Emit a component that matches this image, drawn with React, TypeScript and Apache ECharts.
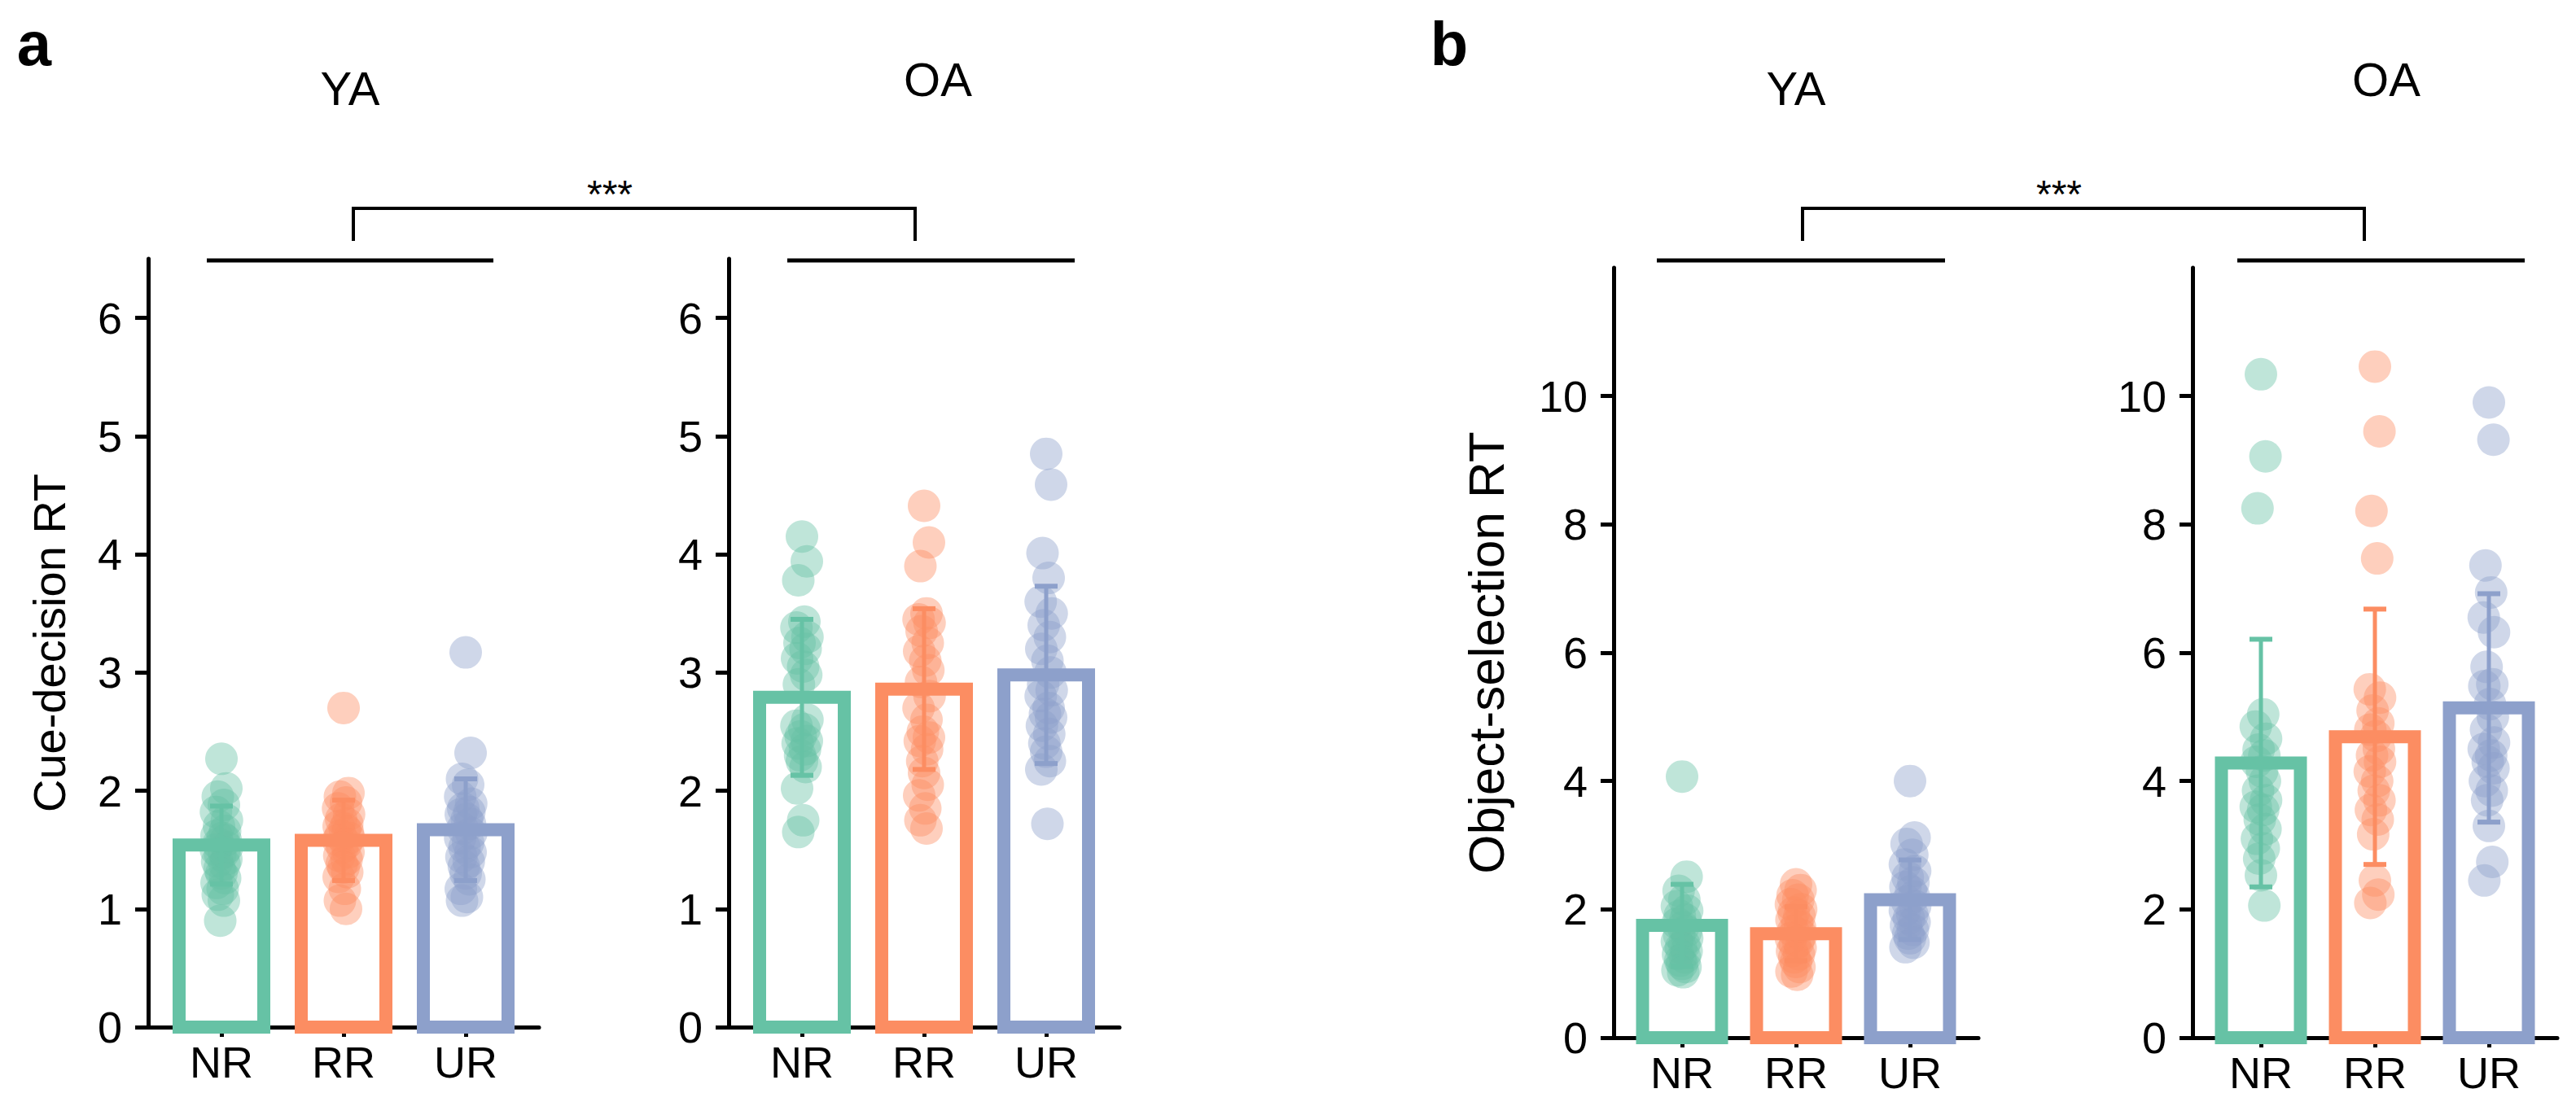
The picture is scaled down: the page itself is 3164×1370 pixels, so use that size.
import React, { useEffect, useRef } from "react";
import * as echarts from "echarts";

const categories = ["NR", "RR", "UR"];
const colors = ["#66C2A5", "#FC8D62", "#8DA0CB"];
const FONT = "Liberation Sans, Arial, sans-serif";

// panel a: cue-decision RT
const cueTicks = [0, 1, 2, 3, 4, 5, 6];
const cueYAMeans = [1.54, 1.58, 1.67];
const cueYASd = [0.33, 0.34, 0.43];
const cueOAMeans = [2.79, 2.86, 2.98];
const cueOASd = [0.66, 0.68, 0.75];

const cueYA_NR = [2.27, 2.02, 1.95, 1.88, 1.82, 1.75, 1.7, 1.66, 1.62, 1.6, 1.58, 1.55, 1.52, 1.5, 1.48, 1.46, 1.42, 1.4, 1.38, 1.34, 1.3, 1.26, 1.22, 1.17, 1.12, 1.07, 0.9];
const cueYA_RR = [2.7, 1.98, 1.95, 1.9, 1.85, 1.8, 1.76, 1.72, 1.7, 1.68, 1.65, 1.62, 1.6, 1.58, 1.55, 1.52, 1.48, 1.45, 1.42, 1.38, 1.35, 1.31, 1.27, 1.17, 1.07, 1.0];
const cueYA_UR = [3.17, 2.32, 2.1, 2.05, 1.95, 1.89, 1.85, 1.82, 1.8, 1.76, 1.72, 1.68, 1.64, 1.6, 1.56, 1.52, 1.48, 1.44, 1.4, 1.36, 1.3, 1.25, 1.17, 1.1, 1.07];
const cueOA_NR = [4.15, 3.94, 3.78, 3.43, 3.38, 3.3, 3.25, 3.2, 3.12, 3.05, 2.98, 2.9, 2.6, 2.55, 2.52, 2.46, 2.42, 2.4, 2.35, 2.3, 2.25, 2.2, 2.02, 1.75, 1.65];
const cueOA_RR = [4.41, 4.1, 3.9, 3.5, 3.45, 3.42, 3.35, 3.25, 3.18, 3.1, 3.02, 2.92, 2.8, 2.7, 2.6, 2.5, 2.45, 2.42, 2.35, 2.25, 2.15, 2.05, 1.96, 1.85, 1.75, 1.68];
const cueOA_UR = [4.85, 4.59, 4.01, 3.8, 3.6, 3.5, 3.4, 3.3, 3.2, 3.1, 3.0, 2.9, 2.85, 2.8, 2.7, 2.65, 2.62, 2.55, 2.48, 2.4, 2.33, 2.25, 2.18, 1.72];

// panel b: object-selection RT
const objTicks = [0, 2, 4, 6, 8, 10];
const objYAMeans = [1.75, 1.62, 2.15];
const objYASd = [0.64, 0.42, 0.62];
const objOAMeans = [4.28, 4.69, 5.14];
const objOASd = [1.93, 1.99, 1.78];

const objYA_NR = [4.07, 2.51, 2.29, 2.15, 2.05, 1.98, 1.9, 1.84, 1.78, 1.72, 1.66, 1.6, 1.55, 1.5, 1.45, 1.4, 1.35, 1.3, 1.25, 1.2, 1.15, 1.1, 1.05, 1.02];
const objYA_RR = [2.39, 2.3, 2.22, 2.15, 2.08, 2.0, 1.95, 1.9, 1.84, 1.78, 1.72, 1.66, 1.6, 1.55, 1.5, 1.45, 1.4, 1.35, 1.3, 1.25, 1.18, 1.1, 1.03, 0.98];
const objYA_UR = [4.0, 3.12, 3.02, 2.85, 2.7, 2.6, 2.5, 2.42, 2.35, 2.28, 2.2, 2.12, 2.05, 1.98, 1.92, 1.86, 1.8, 1.75, 1.68, 1.62, 1.55, 1.48, 1.41];
const objOA_NR = [10.34, 9.06, 8.25, 5.04, 4.85, 4.66, 4.49, 4.4, 4.3, 4.15, 4.0, 3.85, 3.7, 3.6, 3.55, 3.4, 3.25, 3.1, 2.95, 2.79, 2.53, 2.06];
const objOA_RR = [10.46, 9.45, 8.21, 7.47, 5.43, 5.3, 5.1, 4.9, 4.8, 4.7, 4.5, 4.4, 4.3, 4.15, 4.0, 3.85, 3.7, 3.55, 3.4, 3.17, 2.45, 2.23, 2.1];
const objOA_UR = [9.9, 9.32, 7.36, 6.94, 6.55, 6.32, 5.78, 5.51, 5.48, 5.2, 5.0, 4.8, 4.6, 4.5, 4.4, 4.3, 4.2, 4.0, 3.85, 3.7, 3.3, 2.74, 2.45];

// small horizontal spread of the dots (category units)
const jitter = [0, 0.04, -0.03, 0.02, -0.045, 0.045, -0.02, 0.03, -0.04, 0.01, 0.035, -0.025, 0.045, -0.045, 0.02, -0.01, 0.04, -0.035, 0.025, -0.015, 0, 0.03, -0.04, 0.01, -0.03, 0.02, -0.01];

const panels = [
  { left: 182, top: 318, width: 480, height: 944, max: 6.5, interval: 1, ticks: cueTicks, name: "Cue-decision RT", nameSize: 56, nameGap: 94, barW: 104, means: cueYAMeans, sd: cueYASd, points: [cueYA_NR, cueYA_RR, cueYA_UR] },
  { left: 895, top: 318, width: 480, height: 944, max: 6.5, interval: 1, ticks: cueTicks, name: "", nameSize: 56, nameGap: 0, barW: 104, means: cueOAMeans, sd: cueOASd, points: [cueOA_NR, cueOA_RR, cueOA_UR] },
  { left: 1982, top: 329, width: 448, height: 946, max: 12, interval: 2, ticks: objTicks, name: "Object-selection RT", nameSize: 62, nameGap: 126, barW: 97, means: objYAMeans, sd: objYASd, points: [objYA_NR, objYA_RR, objYA_UR] },
  { left: 2693, top: 329, width: 448, height: 946, max: 12, interval: 2, ticks: objTicks, name: "", nameSize: 62, nameGap: 0, barW: 97, means: objOAMeans, sd: objOASd, points: [objOA_NR, objOA_RR, objOA_UR] },
];

const text = (x: number, y: number, s: string, size: number, bold = false) => ({
  type: "text",
  x,
  y,
  style: {
    text: s,
    fill: "#000",
    fontSize: size,
    fontWeight: bold ? "bold" : "normal",
    fontFamily: FONT,
    align: "center",
    verticalAlign: "middle",
    textAlign: "center",
    textVerticalAlign: "middle",
  },
});

const line = (x1: number, y1: number, x2: number, y2: number, w: number) => ({
  type: "line",
  shape: { x1, y1, x2, y2 },
  style: { stroke: "#000", lineWidth: w },
});

const bracket = (x1: number, x2: number, top: number, bottom: number) => ({
  type: "polyline",
  shape: { points: [[x1, bottom], [x1, top], [x2, top], [x2, bottom]] },
  style: { stroke: "#000", lineWidth: 4, fill: "none" },
});

const App: React.FC = () => {
  const chartRef = useRef<HTMLDivElement | null>(null);

  useEffect(() => {
    if (!chartRef.current) return;
    const chart = echarts.init(chartRef.current, undefined, { renderer: "svg" });

    const axisLine = { show: true, onZero: false, lineStyle: { color: "#000", width: 5 } };
    const labelStyle = { color: "#000", fontSize: 54, fontFamily: FONT };

    const grid = panels.map((p) => ({ left: p.left, top: p.top, width: p.width, height: p.height }));

    const xAxis = panels.map((p, i) => ({
      gridIndex: i,
      type: "value",
      min: -0.6,
      max: 2.6,
      axisLine,
      axisTick: { show: true, customValues: [0, 1, 2], length: 12, lineStyle: { color: "#000", width: 5 } },
      axisLabel: {
        ...labelStyle,
        customValues: [0, 1, 2],
        margin: 16,
        formatter: (v: number) => categories[Math.round(v)] ?? "",
      },
      splitLine: { show: false },
    }));

    const yAxis = panels.map((p, i) => ({
      gridIndex: i,
      type: "value",
      min: 0,
      max: p.max,
      interval: p.interval,
      axisLine,
      axisTick: { show: true, customValues: p.ticks, length: 16, lineStyle: { color: "#000", width: 5 } },
      axisLabel: { ...labelStyle, customValues: p.ticks, margin: 32 },
      splitLine: { show: false },
      name: p.name,
      nameLocation: "middle",
      nameGap: p.nameGap,
      nameTextStyle: { color: "#000", fontSize: p.nameSize, fontFamily: FONT },
    }));

    const series: any[] = [];
    panels.forEach((p, i) => {
      p.points.forEach((vals, c) => {
        series.push({
          type: "scatter",
          xAxisIndex: i,
          yAxisIndex: i,
          symbolSize: 40,
          itemStyle: { color: colors[c], opacity: 0.42 },
          data: vals.map((v, k) => [c + jitter[k % jitter.length], v]),
          z: 2,
        });
      });
      const barW = p.barW;
      series.push({
        type: "custom",
        xAxisIndex: i,
        yAxisIndex: i,
        z: 3,
        data: p.means.map((m, c) => [c, m]),
        renderItem: (params: any, api: any) => {
          const c = api.value(0);
          const base = api.coord([c, 0]);
          const top = api.coord([c, api.value(1)]);
          return {
            type: "rect",
            shape: { x: base[0] - barW / 2, y: top[1], width: barW, height: base[1] - top[1] },
            style: { fill: "none", stroke: colors[c], lineWidth: 16 },
          };
        },
      });
      series.push({
        type: "custom",
        xAxisIndex: i,
        yAxisIndex: i,
        z: 4,
        data: p.means.map((m, c) => [c, m - p.sd[c], m + p.sd[c]]),
        renderItem: (params: any, api: any) => {
          const c = api.value(0);
          const lo = api.coord([c, api.value(1)]);
          const hi = api.coord([c, api.value(2)]);
          const cap = 14;
          const st = { stroke: colors[c], lineWidth: 5 };
          return {
            type: "group",
            children: [
              { type: "line", shape: { x1: lo[0], y1: lo[1], x2: hi[0], y2: hi[1] }, style: st },
              { type: "line", shape: { x1: hi[0] - cap, y1: hi[1], x2: hi[0] + cap, y2: hi[1] }, style: { ...st, lineWidth: 6 } },
              { type: "line", shape: { x1: lo[0] - cap, y1: lo[1], x2: lo[0] + cap, y2: lo[1] }, style: { ...st, lineWidth: 6 } },
            ],
          };
        },
      });
    });

    const graphic = [
      text(42, 53, "a", 76, true),
      text(1780, 53, "b", 76, true),
      text(430, 108, "YA", 58),
      text(1152, 97, "OA", 58),
      text(2206, 108, "YA", 58),
      text(2931, 97, "OA", 58),
      bracket(434, 1124, 256, 296),
      bracket(2214, 2904, 256, 296),
      text(749, 238, "***", 48),
      text(2529, 238, "***", 48),
      line(254, 320, 606, 320, 5),
      line(967, 320, 1320, 320, 5),
      line(2035, 320, 2389, 320, 5),
      line(2748, 320, 3101, 320, 5),
    ];

    chart.setOption({
      animation: false,
      backgroundColor: "#fff",
      grid,
      xAxis,
      yAxis,
      series,
      graphic,
    });

    return () => {
      chart.dispose();
    };
  }, []);

  return (
    <div
      ref={chartRef}
      style={{ position: "fixed", left: 0, top: 0, width: "3164px", height: "1370px" }}
    />
  );
};

export default App;
